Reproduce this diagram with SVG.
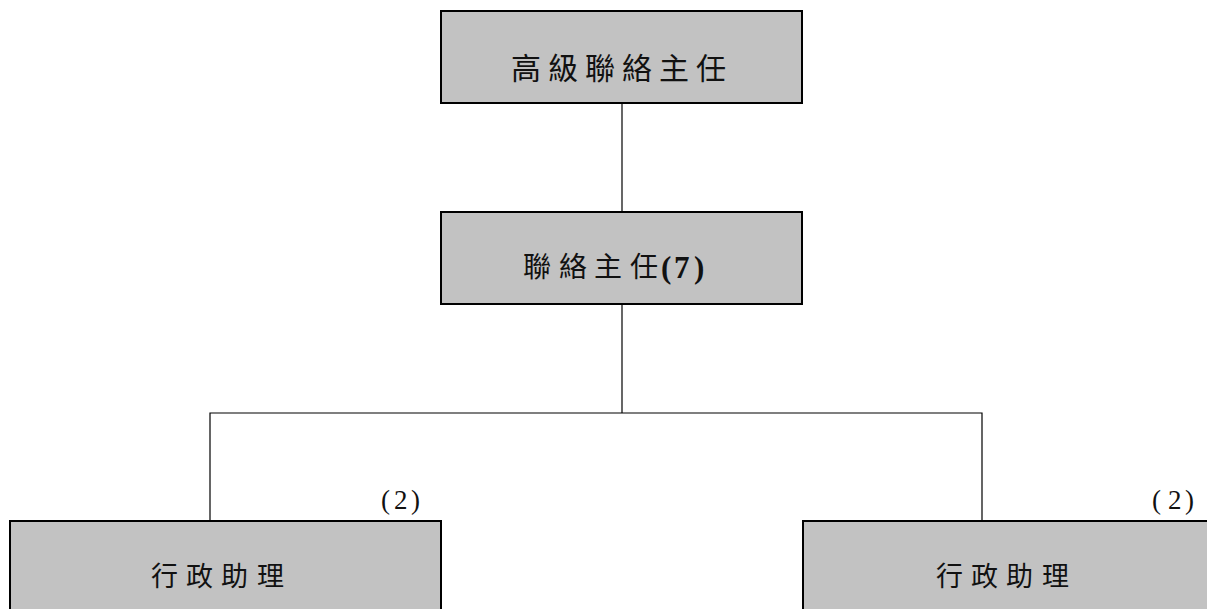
<svg xmlns="http://www.w3.org/2000/svg" width="1207" height="609" viewBox="0 0 1207 609">
<style>
.box{fill:#c2c2c2;stroke:#000;stroke-width:2}
.ln{stroke:#000;stroke-width:1.2;fill:none}
.cjk{font-family:"Noto Sans CJK TC","Noto Sans CJK JP",sans-serif;fill:#111}
.num{font-family:"Liberation Serif",serif;fill:#111}
</style>
<rect width="1207" height="609" fill="#fff"/>
<g id="connectors">
<line class="ln" x1="622" y1="103" x2="622" y2="212"/>
<line class="ln" x1="622" y1="304" x2="622" y2="413"/>
<polyline class="ln" points="210,521 210,413 982,413 982,521"/>
</g>
<g id="n1">
<rect class="box" x="441" y="11" width="361" height="92"/>
<text class="cjk" font-size="30" x="511 548 585 622 659 696" y="79">高級聯絡主任</text>
</g>
<g id="n2">
<rect class="box" x="441" y="212" width="361" height="92"/>
<text class="cjk" font-size="28" x="523 559 594 630" y="277">聯絡主任</text>
<text class="num" font-size="31" font-weight="bold" x="661 674 694" y="278">(7)</text>
</g>
<g id="n3">
<rect class="box" x="10" y="521" width="431" height="110"/>
<text class="cjk" font-size="27" x="151 186 221 257" y="586">行政助理</text>
<text class="num" font-size="27" x="381 394 411" y="509">(2)</text>
</g>
<g id="n4">
<rect class="box" x="803" y="521" width="431" height="110"/>
<text class="cjk" font-size="27" x="936 971 1006 1042" y="586">行政助理</text>
<text class="num" font-size="27" x="1152 1168 1185" y="509">(2)</text>
</g>
</svg>
